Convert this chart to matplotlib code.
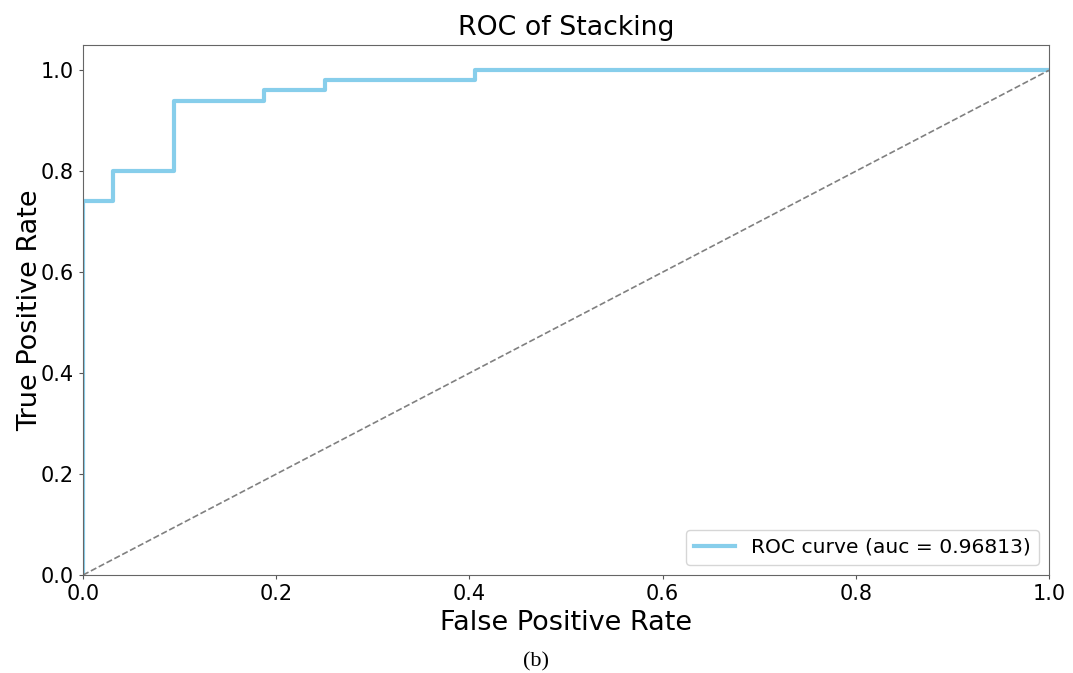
import matplotlib
matplotlib.use('Agg')
import matplotlib.pyplot as plt

# ROC points for the stacking model (32 negatives, 50 positives)
fpr = [0.0, 0.0, 1/32, 1/32, 3/32, 3/32, 6/32, 6/32, 8/32, 8/32, 13/32, 13/32, 1.0]
tpr = [0.0, 0.74, 0.74, 0.80, 0.80, 0.94, 0.94, 0.96, 0.96, 0.98, 0.98, 1.0, 1.0]
roc_auc = 0.96813

fig = plt.figure(figsize=(10.73, 6.73), dpi=100)
ax = fig.add_axes([0.0774, 0.1456, 0.9002, 0.7875])

ax.plot(fpr, tpr, color='skyblue', lw=3, label='ROC curve (auc = %0.5f)' % roc_auc)
ax.plot([0, 1], [0, 1], color='gray', lw=1.2, linestyle='--')

ax.set_xlim(0.0, 1.0)
ax.set_ylim(0.0, 1.05)
ax.set_xticks([0.0, 0.2, 0.4, 0.6, 0.8, 1.0])
ax.set_yticks([0.0, 0.2, 0.4, 0.6, 0.8, 1.0])
ax.tick_params(labelsize=15, color='#555555', length=3)
for s in ax.spines.values():
    s.set_color('#666666')

ax.set_xlabel('False Positive Rate', fontsize=19.5)
ax.set_ylabel('True Positive Rate', fontsize=19.5, labelpad=-2)
ax.set_title('ROC of Stacking', fontsize=19.3, pad=7)
ax.legend(loc='lower right', fontsize=14.6)

fig.text(0.4995, 0.01, '(b)', family='Liberation Serif', fontsize=16, ha='center')

plt.savefig('out.png', dpi=100)
